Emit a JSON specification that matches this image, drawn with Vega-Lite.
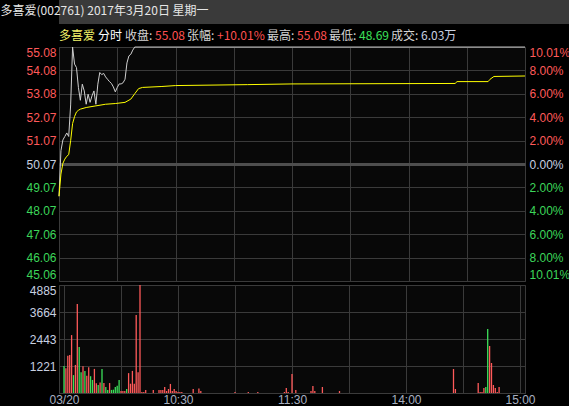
{
  "$schema": "https://vega.github.io/schema/vega-lite/v6.json",
  "background": "#000000",
  "padding": 0,
  "title": {"text": "多喜爱(002761) 2017年3月20日 星期一", "anchor": "start", "frame": "bounds", "orient": "top", "offset": -18, "dy": 0, "color": "#e6e6e6", "font": "Noto Sans CJK SC", "fontSize": 12, "fontWeight": "normal"},
  "config": {
    "view": {"stroke": "#3a3a3a", "fill": "#080808"},
    "axis": {"labelFont": "Liberation Sans", "labelFontSize": 12, "domain": false, "ticks": false, "title": null, "gridColor": "#3a3a3a", "gridOpacity": 1, "labelOverlap": false},
    "title": {"font": "Noto Sans CJK SC", "fontSize": 12, "fontWeight": "normal", "anchor": "start", "frame": "group", "offset": 0}
  },
  "datasets": {
    "px": [
      {"t": 0, "price": 48.69}, {"t": 1, "price": 50.64}, {"t": 2, "price": 51.1}, {"t": 3, "price": 51.25},
      {"t": 4, "price": 51.4}, {"t": 5, "price": 51.25}, {"t": 6, "price": 52.6}, {"t": 7, "price": 55.08},
      {"t": 8, "price": 54.35}, {"t": 9, "price": 54.2}, {"t": 10, "price": 53.35}, {"t": 11, "price": 52.8},
      {"t": 12, "price": 53.49}, {"t": 13, "price": 53.2}, {"t": 14, "price": 52.63}, {"t": 15, "price": 53.06},
      {"t": 16, "price": 52.71}, {"t": 17, "price": 52.99}, {"t": 18, "price": 53.2}, {"t": 19, "price": 52.63},
      {"t": 20, "price": 53.49}, {"t": 21, "price": 53.99}, {"t": 22, "price": 53.9}, {"t": 23, "price": 53.95},
      {"t": 24, "price": 53.8}, {"t": 25, "price": 53.7}, {"t": 26, "price": 53.6}, {"t": 27, "price": 53.52},
      {"t": 28, "price": 53.37}, {"t": 29, "price": 53.16}, {"t": 30, "price": 53.35}, {"t": 31, "price": 53.5},
      {"t": 32, "price": 53.5}, {"t": 33, "price": 53.55}, {"t": 34, "price": 53.7}, {"t": 35, "price": 54.4},
      {"t": 36, "price": 54.7}, {"t": 37, "price": 54.77}, {"t": 38, "price": 54.95}, {"t": 39, "price": 55.08},
      {"t": 240, "price": 55.08}
    ],
    "avg": [
      {"t": 0, "avg": 48.69}, {"t": 1, "avg": 49.64}, {"t": 2, "avg": 50.1}, {"t": 3, "avg": 50.28},
      {"t": 4, "avg": 50.4}, {"t": 5, "avg": 50.47}, {"t": 6, "avg": 51.07}, {"t": 7, "avg": 51.8},
      {"t": 8, "avg": 52.1}, {"t": 9, "avg": 52.3}, {"t": 10, "avg": 52.37}, {"t": 11, "avg": 52.42},
      {"t": 14, "avg": 52.49}, {"t": 19, "avg": 52.56}, {"t": 24, "avg": 52.63}, {"t": 29, "avg": 52.66},
      {"t": 34, "avg": 52.71}, {"t": 37, "avg": 52.85}, {"t": 39, "avg": 53.08}, {"t": 41, "avg": 53.3},
      {"t": 43, "avg": 53.35}, {"t": 53, "avg": 53.39}, {"t": 60, "avg": 53.43}, {"t": 97, "avg": 53.47},
      {"t": 120, "avg": 53.5}, {"t": 204, "avg": 53.52}, {"t": 205, "avg": 53.6}, {"t": 221, "avg": 53.6},
      {"t": 222, "avg": 53.7}, {"t": 224, "avg": 53.82}, {"t": 240, "avg": 53.84}
    ],
    "vol": [
      {"t": 0, "vol": 1221, "dir": "down"}, {"t": 1, "vol": 1120, "dir": "up"}, {"t": 2, "vol": 1680, "dir": "up"},
      {"t": 3, "vol": 1720, "dir": "up"}, {"t": 4, "vol": 2620, "dir": "up"}, {"t": 5, "vol": 810, "dir": "down"},
      {"t": 6, "vol": 1270, "dir": "up"}, {"t": 7, "vol": 4020, "dir": "up"}, {"t": 8, "vol": 2080, "dir": "down"},
      {"t": 9, "vol": 940, "dir": "down"}, {"t": 10, "vol": 1210, "dir": "up"}, {"t": 11, "vol": 990, "dir": "down"},
      {"t": 12, "vol": 780, "dir": "up"}, {"t": 13, "vol": 1170, "dir": "up"}, {"t": 14, "vol": 760, "dir": "down"},
      {"t": 15, "vol": 590, "dir": "down"}, {"t": 16, "vol": 1090, "dir": "up"}, {"t": 17, "vol": 440, "dir": "up"},
      {"t": 18, "vol": 360, "dir": "down"}, {"t": 19, "vol": 480, "dir": "up"}, {"t": 20, "vol": 1090, "dir": "down"},
      {"t": 21, "vol": 450, "dir": "up"}, {"t": 22, "vol": 270, "dir": "down"}, {"t": 23, "vol": 140, "dir": "down"},
      {"t": 24, "vol": 450, "dir": "up"}, {"t": 25, "vol": 140, "dir": "down"}, {"t": 26, "vol": 150, "dir": "down"},
      {"t": 27, "vol": 270, "dir": "down"}, {"t": 28, "vol": 330, "dir": "down"}, {"t": 29, "vol": 590, "dir": "down"},
      {"t": 30, "vol": 90, "dir": "up"}, {"t": 31, "vol": 90, "dir": "up"}, {"t": 32, "vol": 90, "dir": "up"},
      {"t": 33, "vol": 180, "dir": "down"}, {"t": 34, "vol": 900, "dir": "up"}, {"t": 35, "vol": 420, "dir": "up"},
      {"t": 36, "vol": 1000, "dir": "up"}, {"t": 37, "vol": 420, "dir": "up"}, {"t": 38, "vol": 3530, "dir": "up"},
      {"t": 39, "vol": 940, "dir": "up"}, {"t": 40, "vol": 4885, "dir": "up"}, {"t": 41, "vol": 50, "dir": "up"},
      {"t": 42, "vol": 50, "dir": "up"}, {"t": 43, "vol": 140, "dir": "up"}, {"t": 47, "vol": 140, "dir": "up"},
      {"t": 50, "vol": 140, "dir": "up"}, {"t": 51, "vol": 140, "dir": "up"}, {"t": 52, "vol": 140, "dir": "up"},
      {"t": 53, "vol": 270, "dir": "up"}, {"t": 54, "vol": 90, "dir": "up"}, {"t": 55, "vol": 180, "dir": "up"},
      {"t": 56, "vol": 410, "dir": "up"}, {"t": 57, "vol": 90, "dir": "up"}, {"t": 58, "vol": 180, "dir": "up"},
      {"t": 59, "vol": 90, "dir": "up"}, {"t": 60, "vol": 50, "dir": "up"}, {"t": 61, "vol": 50, "dir": "up"},
      {"t": 62, "vol": 50, "dir": "up"}, {"t": 68, "vol": 180, "dir": "up"}, {"t": 71, "vol": 200, "dir": "up"},
      {"t": 72, "vol": 90, "dir": "up"}, {"t": 90, "vol": 45, "dir": "up"}, {"t": 97, "vol": 45, "dir": "up"},
      {"t": 102, "vol": 45, "dir": "up"}, {"t": 116, "vol": 45, "dir": "up"}, {"t": 117, "vol": 230, "dir": "up"},
      {"t": 118, "vol": 45, "dir": "up"}, {"t": 120, "vol": 860, "dir": "up"}, {"t": 122, "vol": 136, "dir": "up"},
      {"t": 130, "vol": 90, "dir": "up"}, {"t": 131, "vol": 317, "dir": "up"}, {"t": 132, "vol": 90, "dir": "up"},
      {"t": 136, "vol": 271, "dir": "up"}, {"t": 145, "vol": 90, "dir": "up"}, {"t": 205, "vol": 1086, "dir": "up"},
      {"t": 206, "vol": 181, "dir": "up"}, {"t": 218, "vol": 452, "dir": "up"}, {"t": 219, "vol": 45, "dir": "up"},
      {"t": 220, "vol": 45, "dir": "up"}, {"t": 221, "vol": 226, "dir": "up"}, {"t": 222, "vol": 271, "dir": "down"},
      {"t": 223, "vol": 2895, "dir": "down"}, {"t": 224, "vol": 2126, "dir": "up"}, {"t": 225, "vol": 1357, "dir": "up"},
      {"t": 226, "vol": 362, "dir": "up"}, {"t": 227, "vol": 226, "dir": "up"}, {"t": 228, "vol": 45, "dir": "up"},
      {"t": 229, "vol": 271, "dir": "up"}
    ]
  },
  "columns": 1,
  "align": "none",
  "spacing": 6,
  "concat": [
    {
      "width": 569,
      "height": 24,
      "view": {"fill": "#3a3a3a", "stroke": null},
      "data": {"values": []},
      "mark": "text"
    },
    {
      "spacing": 1,
      "vconcat": [
        {
          "spacing": 2,
          "hconcat": [
            {"width": 1, "height": 1, "view": {"fill": null, "stroke": null}, "data": {"values": []}, "mark": "text", "title": {"text": "多喜爱  ", "color": "#f2f26a", "dy": 5}},
            {"width": 1, "height": 1, "view": {"fill": null, "stroke": null}, "data": {"values": []}, "mark": "text", "title": {"text": "分时   ", "color": "#ffffff", "dy": 5}},
            {"width": 1, "height": 1, "view": {"fill": null, "stroke": null}, "data": {"values": []}, "mark": "text", "title": {"text": "收盘:", "color": "#d4d4d4", "dy": 5}},
            {"width": 1, "height": 1, "view": {"fill": null, "stroke": null}, "data": {"values": []}, "mark": "text", "title": {"text": "55.08 ", "color": "#ff5050", "dy": 5}},
            {"width": 1, "height": 1, "view": {"fill": null, "stroke": null}, "data": {"values": []}, "mark": "text", "title": {"text": "张幅:", "color": "#d4d4d4", "dy": 5}},
            {"width": 1, "height": 1, "view": {"fill": null, "stroke": null}, "data": {"values": []}, "mark": "text", "title": {"text": " +10.01% ", "color": "#ff5050", "dy": 5}},
            {"width": 1, "height": 1, "view": {"fill": null, "stroke": null}, "data": {"values": []}, "mark": "text", "title": {"text": "最高:", "color": "#d4d4d4", "dy": 5}},
            {"width": 1, "height": 1, "view": {"fill": null, "stroke": null}, "data": {"values": []}, "mark": "text", "title": {"text": " 55.08 ", "color": "#ff5050", "dy": 5}},
            {"width": 1, "height": 1, "view": {"fill": null, "stroke": null}, "data": {"values": []}, "mark": "text", "title": {"text": "最低:", "color": "#d4d4d4", "dy": 5}},
            {"width": 1, "height": 1, "view": {"fill": null, "stroke": null}, "data": {"values": []}, "mark": "text", "title": {"text": "48.69 ", "color": "#3ce05a", "dy": 5}},
            {"width": 1, "height": 1, "view": {"fill": null, "stroke": null}, "data": {"values": []}, "mark": "text", "title": {"text": "成交:", "color": "#d4d4d4", "dy": 5}},
            {"width": 1, "height": 1, "view": {"fill": null, "stroke": null}, "data": {"values": []}, "mark": "text", "title": {"text": "6.03万", "color": "#c8d0e0", "dy": 5}}
          ]
        },
        {
          "width": 466,
          "height": 234,
          "encoding": {
            "x": {"field": "t", "type": "quantitative", "scale": {"domain": [0, 240], "nice": false, "zero": false},
                  "axis": {"values": [30, 60, 90, 120, 150, 180, 210], "grid": true, "labels": false}}
          },
          "layer": [
            {
              "data": {"name": "px"},
              "mark": {"type": "line", "color": "#cfcfcf", "strokeWidth": 1},
              "encoding": {
                "y": {"field": "price", "type": "quantitative", "scale": {"domain": [45.058, 55.082], "nice": false, "zero": false},
                      "axis": {"orient": "left", "values": [45.058, 46.0604, 47.0628, 48.0652, 49.0676, 50.07, 51.0724, 52.0748, 53.0772, 54.0796, 55.082],
                               "format": ".2f", "grid": true, "labelFlush": true, "labelPadding": 3, "minExtent": 58, "maxExtent": 58,
                               "gridColor": {"condition": {"test": "abs(datum.value - 50.07) < 0.001", "value": "#4e4e4e"}, "value": "#3a3a3a"},
                               "gridWidth": {"condition": {"test": "abs(datum.value - 50.07) < 0.001", "value": 3}, "value": 1},
                               "labelColor": {"condition": [{"test": "datum.value > 50.08", "value": "#ff5a5a"}, {"test": "datum.value < 50.06", "value": "#3cd65a"}], "value": "#c8d0e0"}}}
              }
            },
            {
              "data": {"name": "avg"},
              "mark": {"type": "line", "color": "#ffff00", "strokeWidth": 1},
              "encoding": {
                "y": {"field": "avg", "type": "quantitative", "scale": {"domain": [45.058, 55.082], "nice": false, "zero": false},
                      "axis": {"orient": "right", "values": [45.058, 46.0604, 47.0628, 48.0652, 49.0676, 50.07, 51.0724, 52.0748, 53.0772, 54.0796, 55.082],
                               "grid": false, "labelFlush": true, "labelPadding": 4,
                               "labelExpr": "abs(datum.value - 50.07) > 5 ? '10.01%' : format(round(abs(datum.value - 50.07) / 1.0024) * 2, '.2f') + '%'",
                               "labelColor": {"condition": [{"test": "datum.value > 50.08", "value": "#ff5a5a"}, {"test": "datum.value < 50.06", "value": "#3cd65a"}], "value": "#c8d0e0"}}}
              }
            }
          ],
          "resolve": {"axis": {"y": "independent"}}
        },
        {
          "width": 466,
          "height": 108,
          "data": {"name": "vol"},
          "mark": {"type": "bar", "size": 1.3},
          "encoding": {
            "x": {"field": "t", "type": "quantitative", "scale": {"domain": [0, 240], "nice": false, "zero": false},
                  "axis": {"values": [0, 30, 60, 90, 120, 150, 180, 210, 240], "grid": true, "labelFlush": false, "labelPadding": 1, "labelColor": "#a8b0c0",
                           "labelExpr": "datum.value == 0 ? '03/20' : datum.value == 60 ? '10:30' : datum.value == 120 ? '11:30' : datum.value == 180 ? '14:00' : datum.value == 240 ? '15:00' : ''"}},
            "y": {"field": "vol", "type": "quantitative", "scale": {"domain": [0, 4885], "nice": false},
                  "axis": {"values": [0, 1221.25, 2442.5, 3663.75, 4885], "format": ".0f", "labelExpr": "datum.value == 0 ? '' : datum.label",
                           "grid": true, "labelFlush": true, "labelPadding": 3, "minExtent": 58, "maxExtent": 58, "labelColor": "#c8d0e0"}},
            "color": {"field": "dir", "type": "nominal", "scale": {"domain": ["up", "down"], "range": ["#ff5a5a", "#3ce05a"]}, "legend": null}
          }
        }
      ]
    }
  ]
}
